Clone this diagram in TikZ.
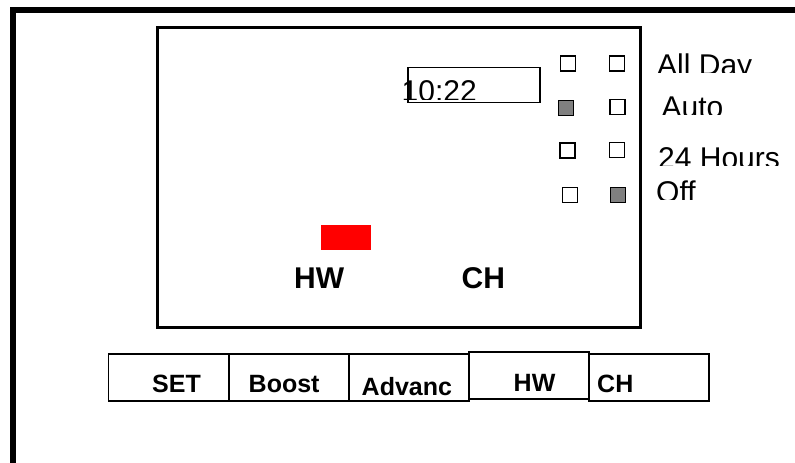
\documentclass[tikz,border=0pt]{standalone}
\usepackage{fontspec}
\setmainfont{Liberation Sans}
\usetikzlibrary{positioning}

\begin{document}
\begin{tikzpicture}[x=1pt, y=-1pt, line join=miter,
    frame/.style={line width=6pt},
    screen/.style={draw, line width=3pt, inner sep=0pt},
    clockbox/.style={draw, line width=1.5pt, inner sep=0pt, minimum width=132pt, minimum height=35pt},
    btnbox/.style={draw, line width=1.5pt, inner sep=0pt, minimum width=120pt, minimum height=47pt},
    lamp/.style={draw, line width=1.5pt, inner sep=0pt, minimum size=15pt},
    lampon/.style={lamp, fill=gray},
    lbl/.style={inner sep=0pt, anchor=base west, font=\fontsize{30}{36}\selectfont},
    zonelbl/.style={lbl, font=\fontsize{30}{36}\selectfont\bfseries},
    btnlbl/.style={inner sep=0pt, anchor=base west, font=\fontsize{25}{30}\selectfont\bfseries}]

\useasboundingbox (0,0) rectangle (795,463);

% outer case, cut off at right and bottom
\draw[frame] (13,463) -- (13,10) -- (795,10);

% display
\node[screen, minimum width=483pt, minimum height=300pt] (display) at (398.5,177) {};
\node[clockbox] (clock) at (474,85) {};
\begin{scope}
  \clip (390,60) rectangle (560,99.5);
  \node[lbl] (time) at (401.5,101.5) {10:22};
\end{scope}

% mode lamps, HW column and CH column
\node[lamp]   (hwday)  at (568,63.5)  {};
\node[lamp]   (chday)  at (617,63.5)  {};
\node[lampon] (hwauto) at (566,108)   {};
\node[lamp]   (chauto) at (617.5,107) {};
\node[lamp]   (hw24)   at (567.5,150.5) {};
\node[lamp]   (ch24)   at (617,150)   {};
\node[lamp]   (hwoff)  at (570,195)   {};
\node[lampon] (choff)  at (618,195)   {};

% mode labels, clipped at the bottom
\begin{scope}
  \clip (650,40) rectangle (795,72);
  \node[lbl] (allday) at (657,75) {All Day};
\end{scope}
\begin{scope}
  \clip (650,85) rectangle (795,114.5);
  \node[lbl] (auto) at (661.5,117) {Auto};
\end{scope}
\begin{scope}
  \clip (650,130) rectangle (795,165.5);
  \node[lbl] (hours) at (658,168) {24 Hours};
\end{scope}
\begin{scope}
  \clip (650,170) rectangle (795,199.5);
  \node[lbl] (off) at (656,202) {Off};
\end{scope}

% zones
\fill[red] (321,225) rectangle (371,250);
\node[zonelbl] (hwzone) at (294,288.5) {HW};
\node[zonelbl] (chzone) at (461.5,288.5) {CH};

% buttons
\node[btnbox] (setbtn)   at (168.5,377.5) {};
\node[btnbox] (boostbtn) at (289,377.5)   {};
\node[btnbox] (advbtn)   at (409,377.5)   {};
\node[btnbox] (hwbtn)    at (529,375.5)   {};
\node[btnbox] (chbtn)    at (649,377.5)   {};

\node[btnlbl] at (152,392)   {SET};
\node[btnlbl] at (248.5,392) {Boost};
\node[btnlbl] at (361.5,395) {Advanc};
\node[btnlbl] at (513.5,391.5) {HW};
\node[btnlbl] at (597,392)   {CH};

\end{tikzpicture}
\end{document}
